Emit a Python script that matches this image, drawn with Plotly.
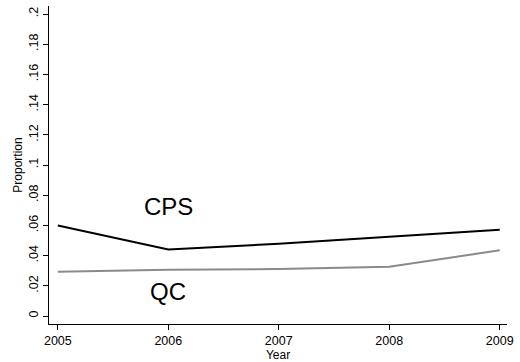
import plotly.graph_objects as go

# Proportion by year for the two sources
years = [2005, 2006, 2007, 2008, 2009]
cps = [0.0600, 0.0440, 0.0478, 0.0525, 0.0571]
qc = [0.0293, 0.0306, 0.0311, 0.0326, 0.0435]

y_ticks = [0, 0.02, 0.04, 0.06, 0.08, 0.10, 0.12, 0.14, 0.16, 0.18, 0.20]
y_tick_text = ["0", ".02", ".04", ".06", ".08", ".1", ".12", ".14", ".16", ".18", ".2"]

FONT = "Liberation Sans, Arial, sans-serif"

fig = go.Figure()
fig.add_trace(go.Scatter(x=years, y=cps, mode="lines",
                         line=dict(color="black", width=2), showlegend=False))
fig.add_trace(go.Scatter(x=years, y=qc, mode="lines",
                         line=dict(color="#8a8a8a", width=2), showlegend=False))

# Series labels placed in data space
fig.add_annotation(x=2006, y=0.0722, text="CPS", showarrow=False,
                   font=dict(family=FONT, size=24, color="black"))
fig.add_annotation(x=2006, y=0.0159, text="QC", showarrow=False,
                   font=dict(family=FONT, size=24, color="black"))

fig.update_layout(
    width=520, height=362,
    margin=dict(l=49, r=9, t=6, b=38),
    paper_bgcolor="white", plot_bgcolor="white",
    font=dict(family=FONT, size=12, color="black"),
    xaxis=dict(
        range=[2004.92, 2009.066],
        tickvals=years, ticktext=[str(y) for y in years],
        showgrid=False, zeroline=False,
        showline=True, linecolor="black", linewidth=1,
        ticks="outside", ticklen=5, tickcolor="black",
        tickfont=dict(size=12.5),
        title=dict(text="Year", font=dict(size=12), standoff=0),
    ),
    yaxis=dict(
        range=[-0.0053, 0.2053],
        tickvals=y_ticks, ticktext=y_tick_text, tickangle=-90,
        showgrid=False, zeroline=False,
        showline=True, linecolor="black", linewidth=1,
        ticks="outside", ticklen=5, tickcolor="black",
        tickfont=dict(size=12.5),
        title=dict(text="Proportion", font=dict(size=12), standoff=1),
    ),
)

fig.write_html("out.html")
